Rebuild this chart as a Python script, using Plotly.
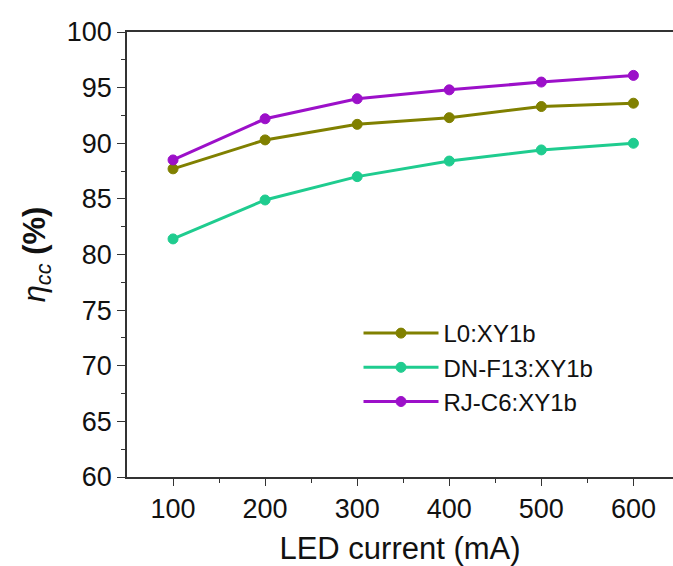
import plotly.graph_objects as go

current = [100, 200, 300, 400, 500, 600]
l0 = [87.7, 90.3, 91.7, 92.3, 93.3, 93.6]
dn = [81.4, 84.9, 87.0, 88.4, 89.4, 90.0]
rj = [88.5, 92.2, 94.0, 94.8, 95.5, 96.1]
names = ["L0:XY1b", "DN-F13:XY1b", "RJ-C6:XY1b"]
colors = ["#808000", "#1fcc8f", "#9c10c9"]

font_family = "Liberation Sans, Arial, sans-serif"

fig = go.Figure()
for name, ys, c in zip(names, [l0, dn, rj], colors):
    fig.add_trace(go.Scatter(
        x=current, y=ys, name=name, mode="lines+markers",
        line=dict(color=c, width=3),
        marker=dict(symbol="circle", size=10, color=c, line=dict(color=c, width=1)),
    ))

fig.update_layout(
    width=673, height=566,
    margin=dict(l=127, r=0, t=32, b=89),
    paper_bgcolor="white", plot_bgcolor="white",
    font=dict(family=font_family, color="#111111", size=26),
    showlegend=True,
    legend=dict(
        x=0.424, y=0.373, xanchor="left", yanchor="top",
        bgcolor="rgba(0,0,0,0)", font=dict(size=24, family=font_family),
        tracegroupgap=0, itemwidth=75,
    ),
)
fig.update_xaxes(
    range=[50, 643], tickvals=current, ticktext=[str(v) for v in current],
    showgrid=False, zeroline=False,
    showline=True, linecolor="#333333", linewidth=1.5, mirror=True,
    ticks="outside", ticklen=7, tickwidth=1.2, tickcolor="#333333",
    minor=dict(tickvals=[150, 250, 350, 450, 550], ticks="outside", ticklen=4, tickcolor="#333333"),
    tickfont=dict(size=27),
    title=dict(text="LED current (mA)", font=dict(size=31), standoff=14),
)
fig.update_yaxes(
    range=[60, 100], dtick=5, tick0=60,
    showgrid=False, zeroline=False,
    showline=True, linecolor="#333333", linewidth=1.5,
    ticks="outside", ticklen=8, tickwidth=1.2, tickcolor="#333333",
    minor=dict(dtick=2.5, ticks="outside", ticklen=4, tickcolor="#333333"),
    tickfont=dict(size=27),
    title=dict(text="<i>η</i><sub><i>cc</i></sub> <b>(%)</b>", font=dict(size=31), standoff=12),
)

fig.write_html("out.html")
